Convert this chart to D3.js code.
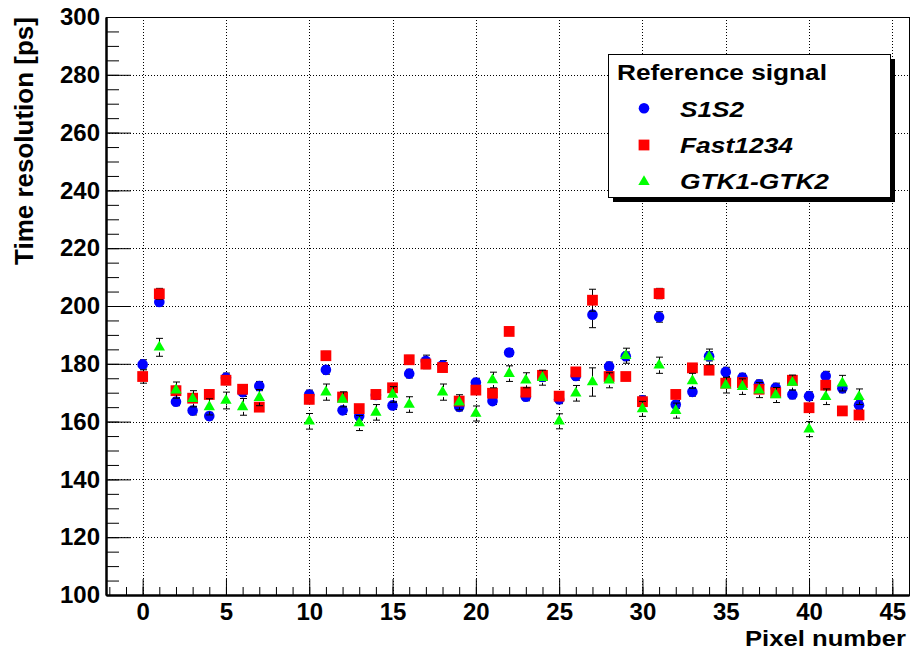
<!DOCTYPE html>
<html>
<head>
<meta charset="utf-8">
<script src="https://cdn.jsdelivr.net/npm/d3@7"></script>
<style>
  html, body { margin: 0; padding: 0; background: #fff; }
  svg { display: block; font-family: "Liberation Sans", Arial, Helvetica, sans-serif; }
</style>
</head>
<body>
<svg id="chart" width="911" height="653"></svg>
<script>
// ---- data ----
const pixels = [0,1,2,3,4,5,6,7,10,11,12,13,14,15,16,17,18,19,20,21,22,23,24,25,26,27,28,29,30,31,32,33,34,35,36,37,38,39,40,41,42,43];
const s1s2 = [179.8,201.4,166.9,163.8,161.9,175.2,170.2,172.3,169.4,177.9,163.9,161.9,169.2,165.6,176.6,181.0,179.5,165.1,173.5,167.1,183.9,168.6,175.5,167.7,175.8,197.0,179.1,182.6,167.4,196.2,165.9,170.3,182.6,177.2,175.2,172.9,171.7,169.4,168.8,175.8,171.5,165.7];
const s1s2Err = [1.6,1.5,1.4,1.5,1.3,1.6,1.5,1.6,1.5,1.5,1.4,1.4,1.5,1.4,1.5,2.0,1.6,1.4,1.5,1.2,1.3,1.4,1.5,1.5,1.5,4.5,1.5,1.5,1.5,1.8,1.4,1.5,1.6,1.6,1.5,1.5,1.6,1.5,1.5,1.6,1.5,1.5];
const fast1234 = [175.6,204.2,170.7,168.1,169.4,174.3,171.2,165.0,167.7,182.8,168.5,164.5,169.4,171.7,181.4,179.9,178.7,167.1,170.9,169.8,191.2,170.2,176.0,168.8,177.2,202.0,175.6,175.6,166.9,204.3,169.4,178.6,177.8,173.3,173.5,171.2,170.0,174.3,164.8,172.6,163.7,162.3];
const fast1234Err = [2.3,1.9,1.5,1.5,1.4,1.5,1.5,1.5,1.5,1.5,1.5,1.4,1.4,1.5,1.5,1.6,1.5,1.4,1.5,1.4,1.4,1.4,1.4,1.4,1.5,3.8,1.5,1.4,1.4,1.8,1.4,1.5,1.5,1.5,1.5,1.5,1.5,1.5,1.5,1.6,1.4,1.4];
const gtk = [null,185.7,170.9,167.9,165.1,167.3,165.1,168.3,160.1,170.2,167.7,159.5,163.2,169.4,165.9,null,170.2,166.7,162.8,174.4,176.6,174.3,175.2,160.1,169.8,173.7,174.3,182.8,164.4,179.5,163.8,174.1,182.4,172.6,172.1,170.9,169.2,173.5,157.4,168.6,173.3,168.6];
const gtkErr = [0,3.1,2.8,2.8,2.8,2.9,2.9,2.8,2.7,2.8,2.6,2.6,2.7,2.7,2.7,0,2.8,2.6,2.6,2.7,2.7,2.6,2.6,2.6,2.7,4.9,2.6,2.6,2.6,2.8,2.6,2.6,2.7,2.7,2.7,2.6,2.6,2.6,2.6,2.7,2.7,2.7];
const xTicks = [0,5,10,15,20,25,30,35,40,45];
const yTicks = [100,120,140,160,180,200,220,240,260,280,300];
const seriesNames = ["S1S2","Fast1234","GTK1-GTK2"];
const legendTitle = "Reference signal";
const xTitle = "Pixel number";
const yTitle = "Time resolution [ps]";

// ---- layout ----
const svg = d3.select("#chart");
const L = 106, R = 909, T = 17, B = 595;
const x = d3.scaleLinear().domain([-2.2, 46.0]).range([L, R]);
const y = d3.scaleLinear().domain([100, 300]).range([B, T]);

// grid
const grid = svg.append("g").attr("stroke", "#000").attr("stroke-width", 1).attr("stroke-dasharray", "1,2");
grid.selectAll(".gx").data(xTicks).join("line")
  .attr("x1", d => Math.round(x(d)) + 0.5).attr("x2", d => Math.round(x(d)) + 0.5)
  .attr("y1", T).attr("y2", B);
grid.selectAll(".gy").data(yTicks.slice(1, -1)).join("line")
  .attr("y1", d => Math.round(y(d)) + 0.5).attr("y2", d => Math.round(y(d)) + 0.5)
  .attr("x1", L).attr("x2", R);

// frame
svg.append("rect").attr("x", L + 0.5).attr("y", T + 0.5).attr("width", R - L).attr("height", B - T)
  .attr("fill", "none").attr("stroke", "#000").attr("stroke-width", 1);

// axes
const fontTick = 24;
const xMinor = svg.append("g").attr("transform", `translate(0,${B})`)
  .call(d3.axisBottom(x).tickValues(d3.range(-2, 47)).tickSizeInner(-8).tickSizeOuter(0).tickFormat(""));
const xMajor = svg.append("g").attr("transform", `translate(0,${B})`)
  .call(d3.axisBottom(x).tickValues(xTicks).tickSizeInner(-16).tickSizeOuter(0).tickPadding(8));
const yMinor = svg.append("g").attr("transform", `translate(${L},0)`)
  .call(d3.axisLeft(y).tickValues(d3.range(100, 301, 5)).tickSizeInner(-13).tickSizeOuter(0).tickFormat(""));
const yMajor = svg.append("g").attr("transform", `translate(${L},0)`)
  .call(d3.axisLeft(y).tickValues(yTicks).tickSizeInner(-25).tickSizeOuter(0).tickPadding(6));
[xMinor, xMajor, yMinor, yMajor].forEach(g => {
  g.selectAll(".domain").attr("stroke", "#000").attr("stroke-width", 2);
  g.selectAll(".tick line").attr("stroke", "#000").attr("stroke-width", 1);
  g.selectAll("text").attr("fill", "#000").attr("font-size", fontTick).attr("font-weight", "bold")
    .attr("font-family", '"Liberation Sans", Arial, sans-serif');
});

// axis titles
svg.append("text").attr("x", 906).attr("y", 646).attr("text-anchor", "end")
  .attr("font-size", 22).attr("font-weight", "bold").attr("textLength", 161).attr("lengthAdjust", "spacingAndGlyphs")
  .text(xTitle);
svg.append("text").attr("transform", `translate(33,${T}) rotate(-90)`).attr("text-anchor", "end")
  .attr("font-size", 26).attr("font-weight", "bold").text(yTitle);

// markers
const symCircle = d3.symbol().type(d3.symbolCircle).size(Math.PI * 5.3 * 5.3);
const symSquare = d3.symbol().type(d3.symbolSquare).size(10.8 * 10.8);
const symTri = d3.symbol().type(d3.symbolTriangle).size(56);
const series = [
  { vals: s1s2, errs: s1s2Err, color: "#0000ff", sym: symCircle, gap: 5 },
  { vals: fast1234, errs: fast1234Err, color: "#ff0000", sym: symSquare, gap: 5 },
  { vals: gtk, errs: gtkErr, color: "#00ff00", sym: symTri, gap: 5 }
];
series.forEach(s => {
  const pts = pixels.map((p, i) => ({ p, v: s.vals[i], e: s.errs[i] })).filter(d => d.v != null);
  const g = svg.append("g");
  const eb = g.append("g").attr("stroke", "#000").attr("stroke-width", 1);
  pts.forEach(d => {
    const cx = Math.round(x(d.p)) + 0.5;
    const yt = y(d.v + d.e), yb = y(d.v - d.e), yc = y(d.v);
    if (yc - yt > s.gap) {
      eb.append("line").attr("x1", cx).attr("x2", cx).attr("y1", yt).attr("y2", yc - s.gap);
    }
    if (yb - yc > s.gap) {
      eb.append("line").attr("x1", cx).attr("x2", cx).attr("y1", yc + s.gap).attr("y2", yb);
    }
    eb.append("line").attr("x1", cx - 3.5).attr("x2", cx + 3.5).attr("y1", yt).attr("y2", yt);
    eb.append("line").attr("x1", cx - 3.5).attr("x2", cx + 3.5).attr("y1", yb).attr("y2", yb);
  });
  g.selectAll("path.m").data(pts).join("path")
    .attr("transform", d => `translate(${x(d.p)},${y(d.v)})`)
    .attr("d", s.sym()).attr("fill", s.color);
});

// legend
const lg = svg.append("g");
const LX = 608, LY = 54, LW = 282, LH = 143;
lg.append("rect").attr("x", LX + 5).attr("y", LY + 5).attr("width", LW).attr("height", LH).attr("fill", "#000");
lg.append("rect").attr("x", LX + 0.5).attr("y", LY + 0.5).attr("width", LW).attr("height", LH)
  .attr("fill", "#fff").attr("stroke", "#000").attr("stroke-width", 1);
lg.append("text").attr("x", 617).attr("y", 79.5).attr("font-size", 22).attr("font-weight", "bold")
  .attr("textLength", 210).attr("lengthAdjust", "spacingAndGlyphs").text(legendTitle);
const legRows = [
  { name: seriesNames[0], sym: symCircle, color: "#0000ff", cy: 108.3, base: 117.3, w: 64 },
  { name: seriesNames[1], sym: symSquare, color: "#ff0000", cy: 145, base: 153.3, w: 113 },
  { name: seriesNames[2], sym: symTri, color: "#00ff00", cy: 181.7, base: 189.3, w: 149 }
];
legRows.forEach(r => {
  lg.append("path").attr("transform", `translate(644,${r.cy})`).attr("d", r.sym()).attr("fill", r.color);
  lg.append("text").attr("x", 680).attr("y", r.base).attr("font-size", 22).attr("font-weight", "bold")
    .attr("font-style", "italic").attr("textLength", r.w).attr("lengthAdjust", "spacingAndGlyphs").text(r.name);
});
</script>
</body>
</html>
